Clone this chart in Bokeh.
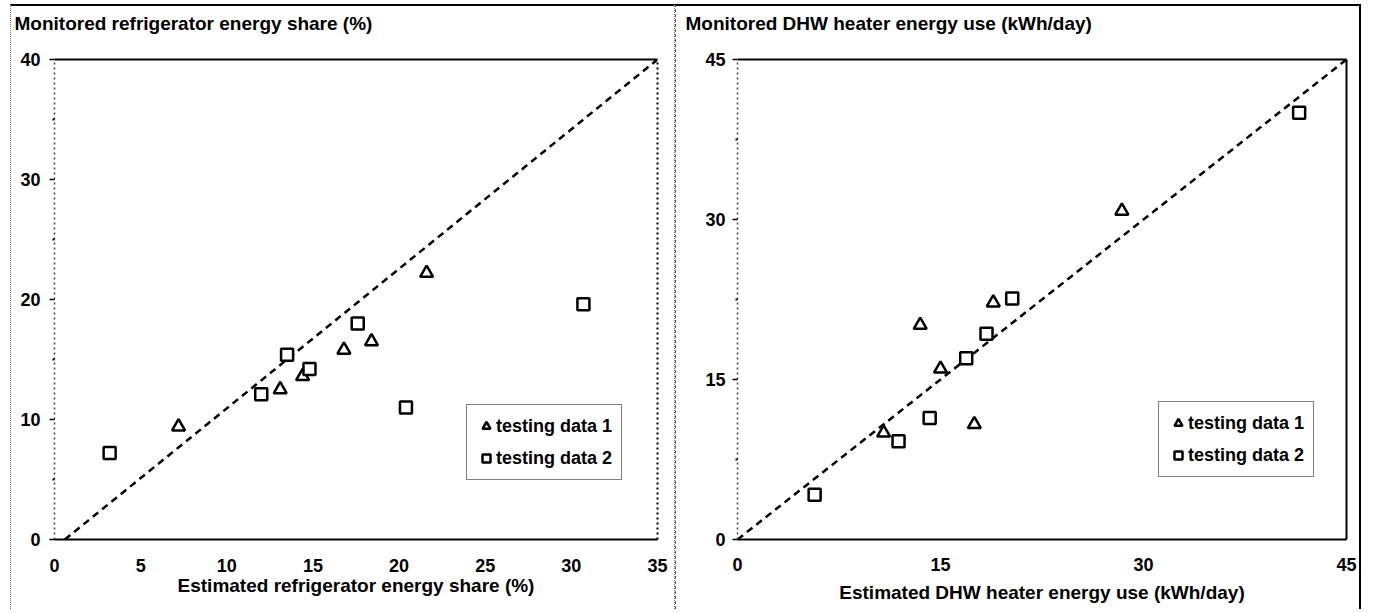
from bokeh.plotting import figure
from bokeh.layouts import row
from bokeh.models import Range1d, LinearAxis, Legend, LegendItem, FixedTicker
from bokeh.embed import file_html
from bokeh.resources import INLINE

# ---------------- data ----------------
# Left panel: refrigerator energy share (%)
fr_d1_est = [7.2, 13.1, 14.4, 16.8, 18.4, 21.6]
fr_d1_mon = [9.4, 12.5, 13.6, 15.8, 16.5, 22.2]
fr_d2_est = [3.2, 12.0, 13.5, 14.8, 17.6, 20.4, 30.7]
fr_d2_mon = [7.2, 12.1, 15.4, 14.2, 18.0, 11.0, 19.6]
fr_ref_x = [0.6, 35]
fr_ref_y = [0, 40]
fr_xticks = [0, 5, 10, 15, 20, 25, 30, 35]
fr_yticks = [0, 10, 20, 30, 40]

# Right panel: DHW heater energy use (kWh/day)
dhw_d1_est = [10.8, 13.5, 15.0, 17.5, 18.9, 28.4]
dhw_d1_mon = [10.0, 20.1, 16.0, 10.8, 22.2, 30.8]
dhw_d2_est = [5.7, 11.9, 14.2, 16.9, 18.4, 20.3, 41.5]
dhw_d2_mon = [4.2, 9.2, 11.4, 17.0, 19.3, 22.6, 40.0]
dhw_ref_x = [0, 45]
dhw_ref_y = [0, 45]
dhw_xticks = [0, 15, 30, 45]
dhw_yticks = [0, 15, 30, 45]

FONT = "Liberation Sans"


def make_panel(width, height, xmax, ymax, xticks, yticks, d1x, d1y, d2x, d2y, rx, ry,
               ytitle, xtitle, borders, title_dx, legend_loc, legend_pad,
               xstand, xlab_stand, ystand, right_dash, styles):
    bl, br, bt, bb = borders
    p = figure(width=width, height=height, x_range=Range1d(0, xmax), y_range=Range1d(0, ymax),
               output_backend="svg", toolbar_location=None,
               min_border_left=bl, min_border_right=br, min_border_top=bt, min_border_bottom=bb)
    p.styles = styles
    p.outline_line_color = None
    p.grid.visible = False
    p.background_fill_color = "white"
    p.border_fill_color = "white"

    # title at top-left (y-axis title of the original chart)
    p.title.text = ytitle
    p.title.align = "left"
    p.title.offset = title_dx
    p.title.standoff = 0
    p.title.text_font = FONT
    p.title.text_font_style = "bold"
    p.title.text_font_size = "19px"
    p.title.text_color = "black"

    # bottom axis
    xa = p.xaxis[0]
    xa.ticker = FixedTicker(ticks=xticks)
    xa.axis_line_color = "black"
    xa.axis_line_width = 2
    xa.major_tick_line_color = None
    xa.minor_tick_line_color = None
    xa.major_label_text_font = FONT
    xa.major_label_text_font_style = "bold"
    xa.major_label_text_font_size = "18px"
    xa.major_label_text_color = "black"
    xa.major_label_standoff = xstand
    xa.axis_label = xtitle
    xa.axis_label_text_font = FONT
    xa.axis_label_text_font_style = "bold"
    xa.axis_label_text_font_size = "19px"
    xa.axis_label_text_color = "black"
    xa.axis_label_standoff = xlab_stand

    # left axis (dotted, like the scan)
    ya = p.yaxis[0]
    step = yticks[1] - yticks[0]
    ya.ticker = FixedTicker(ticks=yticks, minor_ticks=[t + step / 2 for t in yticks[:-1]])
    ya.axis_line_color = "#444444"
    ya.axis_line_dash = "2 3"
    ya.axis_line_width = 1.5
    ya.major_tick_line_color = "black"
    ya.major_tick_in = 0
    ya.major_tick_out = 5
    ya.major_tick_line_width = 1.5
    ya.minor_tick_line_color = "black"
    ya.minor_tick_in = 0
    ya.minor_tick_out = 2
    ya.minor_tick_line_width = 2
    ya.major_label_text_font = FONT
    ya.major_label_text_font_style = "bold"
    ya.major_label_text_font_size = "18px"
    ya.major_label_text_color = "black"
    ya.major_label_standoff = ystand

    # top frame line; its (blank) label lifts the title up to the top of the panel
    top = LinearAxis(ticker=FixedTicker(ticks=[]), axis_line_color="black", axis_line_width=2,
                     major_tick_line_color=None, minor_tick_line_color=None,
                     axis_label="\u00a0", axis_label_text_font=FONT,
                     axis_label_text_font_size="19px", axis_label_standoff=2)
    p.add_layout(top, "above")
    right = LinearAxis(ticker=FixedTicker(ticks=[]), axis_line_color="black", axis_line_width=2,
                       axis_line_dash=right_dash,
                       major_tick_line_color=None, minor_tick_line_color=None)
    p.add_layout(right, "right")

    p.line(rx, ry, line_color="black", line_width=2.5, line_dash="7 5")
    r1 = p.scatter(d1x, d1y, marker="triangle", size=13, fill_color="white",
                   line_color="black", line_width=2.5)
    r2 = p.scatter(d2x, d2y, marker="square", size=12, fill_color="white",
                   line_color="black", line_width=2.5)

    leg = Legend(items=[LegendItem(label="testing data 1", renderers=[r1]),
                        LegendItem(label="testing data 2", renderers=[r2])],
                 location=legend_loc)
    leg.label_text_font = FONT
    leg.label_text_font_style = "bold"
    leg.label_text_font_size = "18px"
    leg.label_text_color = "black"
    leg.border_line_color = "black"
    leg.border_line_width = 1.5
    leg.background_fill_color = "white"
    leg.background_fill_alpha = 1
    leg.padding = legend_pad
    leg.spacing = 8
    leg.margin = 0
    leg.glyph_width = 20
    leg.glyph_height = 24
    leg.label_height = 24
    leg.label_standoff = 0
    p.add_layout(leg, "center")
    return p


p1 = make_panel(665, 605, 35, 40, fr_xticks, fr_yticks, fr_d1_est, fr_d1_mon, fr_d2_est, fr_d2_mon,
                fr_ref_x, fr_ref_y,
                "Monitored refrigerator energy share (%)", "Estimated refrigerator energy share (%)",
                (43, 19, 53, 66), -40, (412, 59), 9, 13, 0, 9, "2 3",
                {"border-top": "2px solid black", "border-left": "1px dotted #777",
                 "border-right": "1px dotted #777", "margin-top": "4px", "margin-left": "10px"})

p2 = make_panel(686, 605, 45, 45, dhw_xticks, dhw_yticks, dhw_d1_est, dhw_d1_mon, dhw_d2_est, dhw_d2_mon,
                dhw_ref_x, dhw_ref_y,
                "Monitored DHW heater energy use (kWh/day)", "Estimated DHW heater energy use (kWh/day)",
                (61, 16, 50, 72), -52, (421, 62), 9, 12, 8, 7, "solid",
                {"border-top": "2px solid black", "border-left": "1px dashed #555",
                 "border-right": "2px solid black", "margin-top": "4px"})

layout = row(p1, p2)
open("out.html", "w").write(file_html(layout, INLINE))
